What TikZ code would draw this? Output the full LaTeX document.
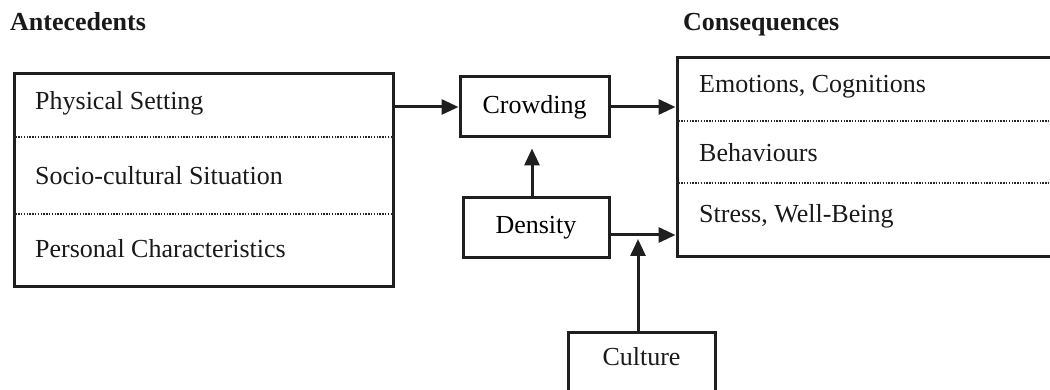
\documentclass[tikz,border=0pt]{standalone}
\usepackage{fontspec}
\setmainfont{Liberation Serif}
\usetikzlibrary{arrows.meta}
\begin{document}
\begin{tikzpicture}[x=1pt,y=-1pt,
  every node/.style={font=\fontsize{26}{30}\selectfont, inner sep=0pt},
  frame/.style={draw=black!88, line width=3pt, rectangle},
  divider/.style={draw=black!85, line width=1.8pt, dash pattern=on 1.4pt off 1.4pt},
  item/.style={anchor=base west, text=black!90},
  heading/.style={anchor=base west, font=\fontsize{26}{30}\selectfont\bfseries, text=black!90},
  link/.style={draw=black!88, line width=3pt, -{Triangle[length=17pt,width=15pt]}}]
\useasboundingbox (0,0) rectangle (1050,390);
\clip (0,0) rectangle (1050,390);

% headings
\node[heading] (ante) at (10,31) {Antecedents};
\node[heading] (cons) at (683,31) {Consequences};

% antecedents block
\node[frame, minimum width=379pt, minimum height=213pt] (left) at (203.5,180.5) {};
\draw[divider] (left.west |- 0,137) -- (left.east |- 0,137);
\draw[divider] (left.west |- 0,214) -- (left.east |- 0,214);
\node[item] (phys) at (35,110) {Physical Setting};
\node[item] (soc) at (35,185) {Socio-cultural Situation};
\node[item] (pers) at (35,258) {Personal Characteristics};

% consequences block
\node[frame, minimum width=393pt, minimum height=199pt] (right) at (873.5,157.5) {};
\draw[divider] (right.west |- 0,121) -- (right.east |- 0,121);
\draw[divider] (right.west |- 0,183) -- (right.east |- 0,183);
\node[item] (emo) at (699,93) {Emotions, Cognitions};
\node[item] (beh) at (699,162) {Behaviours};
\node[item] (str) at (699,223) {Stress, Well-Being};

% middle boxes
\node[frame, minimum width=149pt, minimum height=60pt] (crowd) at (534.5,107) {Crowding};
\node[frame, minimum width=146pt, minimum height=60pt] (dens) at (536,228) {Density};
\node[frame, minimum width=147pt, minimum height=68pt] (cult) at (641.5,366) {};
\node[anchor=base, text=black!90] (cultlabel) at (641.5,365) {Culture};

% junction where culture moderates density
\coordinate (j) at (638,235);

% connectors
\draw[link] (left.east |- crowd.west) -- (crowd.west);
\draw[link] (crowd.east) -- (crowd.east -| right.west);
\draw[link, shorten >=10pt] (dens.north -| 532,0) -- (crowd.south -| 532,0);
\draw[link] (dens.east |- j) -- (j -| right.west);
\draw[link, shorten >=4pt] (cult.north -| j) -- (j);
\end{tikzpicture}
\end{document}
